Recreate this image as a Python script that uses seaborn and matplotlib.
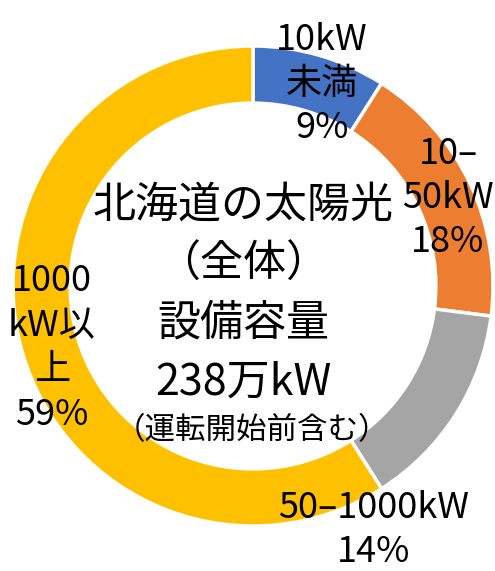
import matplotlib
matplotlib.use("Agg")
import matplotlib.pyplot as plt
import seaborn as sns

# Capacity share by system size (Hokkaido solar, incl. not yet operating)
categories = ["10kW\n未満", "10–\n50kW", "50–1000kW", "1000\nkW以\n上"]
shares = [9, 18, 14, 59]
colors = ["#4472C4", "#ED7D31", "#A5A5A5", "#FFC000"]
center_lines = ["北海道の太陽光", "（全体）", "設備容量", "238万kW"]
center_note = "（運転開始前含む）"

sns.set_theme(style="white")
plt.rcParams["font.family"] = ["Noto Sans CJK JP", "DejaVu Sans"]

W, H = 495, 571
fig = plt.figure(figsize=(W / 100, H / 100), dpi=100)
ax = fig.add_axes([0, 0, 1, 1])

cx, cy, R = 253, H - 286, 240
ax.pie(shares, colors=colors, startangle=90, counterclock=False,
       radius=R, center=(cx, cy),
       wedgeprops=dict(width=R * 0.238, edgecolor="white", linewidth=2.5))
ax.set_aspect("equal")
ax.set_xlim(0, W)
ax.set_ylim(0, H)
ax.axis("off")


def put(x, y, s, size=26, **kw):
    ax.text(x, H - y, s, ha="center", va="center", fontsize=size,
            color="black", linespacing=1.3, **kw)


# Slice labels: category + percentage
label_pos = [(322, 84), (448, 198), (374, 530), (52, 348)]
for (x, y), cat, v in zip(label_pos, categories, shares):
    put(x, y, f"{cat}\n{v}%")

# Centre caption
for i, line in enumerate(center_lines):
    put(243, 206 + i * 59, line, size=31)
put(252, 431, center_note, size=22)

fig.savefig("out.png", dpi=100)
